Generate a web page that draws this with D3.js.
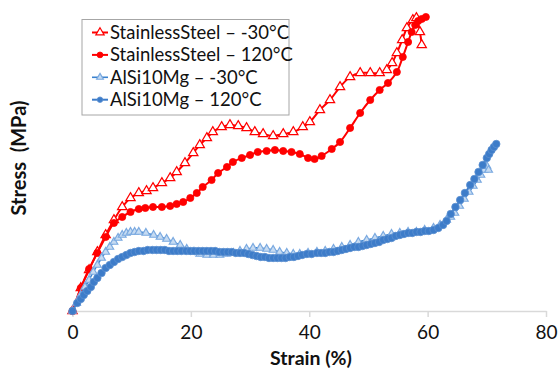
<!DOCTYPE html>
<html>
<head>
<meta charset="utf-8">
<script src="https://cdn.jsdelivr.net/npm/d3@7"></script>
<style>
  body { margin: 0; background: #fff; }
  svg { font-family: Lato, "Open Sans", sans-serif; }
</style>
</head>
<body>
<div id="chart"></div>
<script>
// series names
const seriesNames = ["StainlessSteel \u2013 -30°C", "StainlessSteel \u2013 120°C", "AlSi10Mg \u2013 -30°C", "AlSi10Mg \u2013 120°C"]
const xTicks = [0, 20, 40, 60, 80]

// StainlessSteel -30°C
const ssColdStrain = [0, 1.4, 2.8, 4.2, 5.6, 7.0, 8.4, 9.8, 11.2, 12.5, 13.6, 15.1, 16.5, 17.6, 19.0, 20.4, 21.5, 22.7, 23.7, 25.2, 26.6, 28.0, 29.4, 30.8, 32.2, 33.9, 35.6, 37.3, 38.9, 40.1, 41.8, 43.5, 45.2, 46.9, 48.6, 50.3, 51.9, 53.1, 54.0, 54.8, 55.7, 56.5, 57.5, 58.1, 58.7, 59.0]
const ssColdStress = [0, 23, 41, 59, 76, 91, 104, 113, 118, 120, 123, 128, 133, 139, 148, 158, 166, 173, 179, 184, 186, 185, 183, 179, 177, 175, 177, 179, 184, 189, 201, 211, 224, 234, 238, 238, 238, 241, 248, 258, 271, 283, 291, 293, 279, 266]

// StainlessSteel 120°C
const ssHotStrain = [0, 1.4, 2.8, 4.2, 5.6, 7.0, 8.4, 9.8, 11.2, 12.3, 13.6, 15.1, 16.5, 17.6, 18.7, 19.9, 21.0, 22.0, 23.5, 24.6, 26.1, 27.1, 28.6, 30.0, 31.3, 32.8, 34.2, 35.6, 37.0, 38.4, 39.8, 40.9, 42.1, 43.8, 45.2, 46.9, 48.6, 50.3, 51.9, 53.3, 54.8, 55.8, 56.7, 57.3, 57.9, 58.4, 59.0, 59.7]
const ssHotStress = [0, 23, 42, 58, 74, 88, 94, 99, 102, 103, 104, 104, 105, 107, 109, 113, 118, 124, 131, 138, 144, 149, 153, 156, 159, 160, 161, 160, 159, 157, 153, 152, 155, 162, 169, 183, 198, 211, 221, 228, 239, 254, 269, 279, 286, 290, 292, 294]

// AlSi10Mg -30°C
const alColdStrain = [0, 0.7, 1.4, 2.1, 2.8, 3.5, 4.2, 4.9, 5.6, 6.3, 7.0, 7.7, 8.4, 9.1, 9.8, 10.5, 11.2, 12.4, 13.7, 14.8, 15.9, 17.0, 18.2, 19.3, 20.4, 21.5, 22.7, 23.8, 24.9, 26.0, 27.2, 28.3, 29.4, 30.5, 31.7, 32.8, 33.9, 35.0, 36.2, 37.3, 38.4, 39.8, 41.3, 42.7, 44.1, 45.5, 46.9, 48.3, 49.7, 51.1, 52.5, 53.9, 55.3, 56.7, 58.1, 59.5, 61.0, 62.1, 63.2, 63.9, 64.6, 65.4, 66.2, 67.0, 67.7, 68.4, 69.0, 69.5, 70.0, 70.3]
const alColdStress = [0, 8, 16, 24, 31, 39, 46, 53, 59, 64, 69, 73, 76, 78, 79, 79, 79, 78, 76, 74, 72, 69, 66, 62, 59, 57, 56, 56, 56, 57, 58, 60, 62, 63, 63, 62, 61, 59, 58, 57, 57, 58, 59, 60, 62, 64, 66, 69, 71, 73, 75, 77, 78, 79, 79, 81, 83, 86, 91, 94, 98, 105, 112, 119, 125, 131, 136, 141, 145, 141]

// AlSi10Mg 120°C
const alHotStrain = [0, 0.8, 1.4, 1.9, 2.5, 3.1, 3.6, 4.2, 4.9, 5.6, 6.3, 7.0, 7.7, 8.4, 9.1, 9.8, 10.5, 11.2, 12.0, 12.7, 13.5, 14.2, 14.9, 15.6, 16.3, 17.0, 17.7, 18.4, 19.2, 19.9, 20.6, 21.3, 22.0, 22.7, 23.4, 24.1, 24.8, 25.5, 26.2, 26.9, 27.6, 28.3, 29.0, 29.7, 30.4, 31.1, 31.8, 32.5, 33.2, 33.9, 34.6, 35.3, 36.0, 36.7, 37.4, 38.1, 38.8, 39.6, 40.4, 41.3, 42.0, 42.7, 43.4, 44.1, 44.8, 45.5, 46.2, 46.9, 47.6, 48.3, 49.0, 49.7, 50.4, 51.1, 51.8, 52.5, 53.2, 53.9, 54.6, 55.3, 56.0, 56.7, 57.4, 58.1, 58.8, 59.5, 60.2, 61.0, 61.8, 62.6, 63.2, 63.9, 64.7, 65.5, 66.3, 67.2, 67.9, 68.6, 69.3, 70.0, 70.4, 70.8, 71.2, 71.6]
const alHotStress = [0, 8, 12, 16, 20, 24, 29, 33, 38, 43, 46, 49, 52, 54, 56, 58, 59, 60, 60, 61, 61, 61, 61, 61, 60, 60, 60, 60, 60, 60, 60, 60, 60, 60, 60, 60, 59, 59, 59, 59, 58, 58, 58, 57, 56, 55, 54, 54, 53, 53, 53, 53, 53, 54, 54, 55, 56, 57, 57, 58, 58, 58, 59, 59, 60, 61, 62, 63, 64, 64, 65, 66, 67, 68, 69, 71, 72, 73, 75, 76, 77, 78, 78, 79, 79, 80, 80, 81, 83, 86, 90, 97, 104, 111, 118, 126, 132, 139, 146, 153, 157, 161, 164, 167]

const width = 559, height = 370

const svg = d3.select("#chart").append("svg")
  .attr("width", width)
  .attr("height", height)

const x = d3.scaleLinear().domain([0, 80]).range([72.5, 546])
const y = d3.scaleLinear().domain([0, 300]).range([311, 11])

// x axis
const xAxis = svg.append("g")
  .attr("transform", `translate(0,${y(0)})`)
  .call(d3.axisBottom(x).tickValues(xTicks).tickSize(6).tickPadding(9).tickSizeOuter(0))
xAxis.select(".domain").attr("stroke", "#d9d9d9").attr("stroke-width", 1.5)
xAxis.selectAll(".tick line").attr("stroke", "#d9d9d9").attr("stroke-width", 1.5)
xAxis.selectAll(".tick text")
  .attr("fill", "#111")
  .style("font-size", "19px")
  .style("font-family", "Lato, sans-serif")

// axis titles
svg.append("text")
  .attr("x", 311).attr("y", 364.5)
  .attr("text-anchor", "middle")
  .style("font-size", "19.5px").style("font-weight", "bold")
  .attr("fill", "#111")
  .text("Strain (%)")

svg.append("text")
  .attr("transform", "translate(26,158) rotate(-90)")
  .attr("text-anchor", "middle")
  .style("font-size", "20px").style("font-weight", "bold")
  .attr("fill", "#111")
  .style("white-space", "pre")
  .text("Stress  (MPa)")

const series = [
  { name: seriesNames[0], xs: ssColdStrain, ys: ssColdStress, line: "#ff0000", lw: 2, marker: "tri", mFill: "#fff", mStroke: "#ff0000", size: 38, lsize: 30 },
  { name: seriesNames[1], xs: ssHotStrain, ys: ssHotStress, line: "#ff0000", lw: 2, marker: "circ", mFill: "#ff0000", mStroke: "#ff0000", size: 40, lsize: 26 },
  { name: seriesNames[2], xs: alColdStrain, ys: alColdStress, line: "#3b82cf", lw: 1.6, marker: "tri", mFill: "#c6dbf2", mStroke: "#7aa9e0", size: 26, lsize: 20 },
  { name: seriesNames[3], xs: alHotStrain, ys: alHotStress, line: "#3d7cc9", lw: 2, marker: "circ", mFill: "#3d7cc9", mStroke: "#5a8fd0", size: 44, lsize: 24 }
]

series.forEach(s => {
  const pts = s.xs.map((v, i) => [v, s.ys[i]])
  const g = svg.append("g")
  g.append("path")
    .datum(pts)
    .attr("d", d3.line().x(d => x(d[0])).y(d => y(d[1])).curve(d3.curveCatmullRom))
    .attr("fill", "none")
    .attr("stroke", s.line)
    .attr("stroke-width", s.lw)
  const sym = d3.symbol().type(s.marker === "tri" ? d3.symbolTriangle : d3.symbolCircle).size(s.size)
  g.selectAll("path.m")
    .data(pts)
    .join("path")
    .attr("class", "m")
    .attr("transform", d => `translate(${x(d[0])},${y(d[1])})`)
    .attr("d", sym)
    .attr("fill", s.mFill)
    .attr("stroke", s.mStroke)
    .attr("stroke-width", s.marker === "tri" ? 1.2 : 0.8)
})

// legend
const legend = svg.append("g")
legend.append("rect")
  .attr("x", 82).attr("y", 19.5).attr("width", 207).attr("height", 95.5)
  .attr("fill", "#fff").attr("stroke", "#a6a6a6").attr("stroke-width", 1)

series.forEach((s, i) => {
  const cy = 32.5 + i * 22.4
  legend.append("line")
    .attr("x1", 92).attr("x2", 108).attr("y1", cy).attr("y2", cy)
    .attr("stroke", s.line).attr("stroke-width", s.lw)
  legend.append("path")
    .attr("transform", `translate(100,${cy})`)
    .attr("d", d3.symbol().type(s.marker === "tri" ? d3.symbolTriangle : d3.symbolCircle).size(s.lsize))
    .attr("fill", s.mFill).attr("stroke", s.mStroke)
    .attr("stroke-width", s.marker === "tri" ? 1.2 : 0.8)
  legend.append("text")
    .attr("x", 110).attr("y", cy)
    .attr("dy", "0.35em")
    .style("font-size", "18.5px")
    .attr("fill", "#111")
    .text(s.name)
})
</script>
</body>
</html>
